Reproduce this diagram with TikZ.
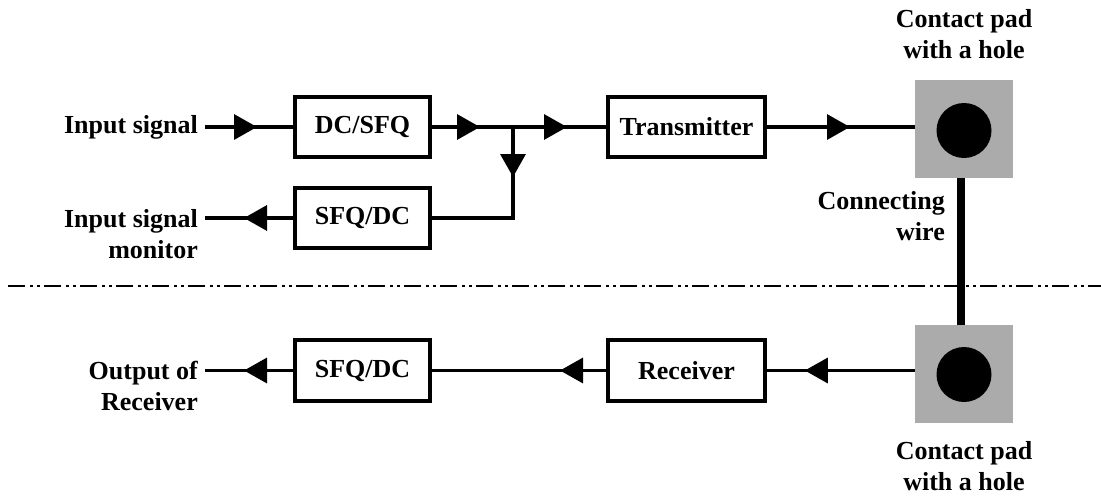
\documentclass[tikz,border=0pt]{standalone}
\usepackage{fontspec}
\setmainfont{Liberation Serif}
\usetikzlibrary{arrows.meta,decorations.markings}

\tikzset{
  block/.style={draw, line width=4pt, fill=white, minimum height=60pt,
    inner sep=0pt, font=\fontsize{26}{31}\selectfont\bfseries},
  lbl/.style={inner sep=0pt, align=right, font=\fontsize{26}{31}\selectfont\bfseries},
  toplbl/.style={inner sep=0pt, align=center, font=\fontsize{26}{31}\selectfont\bfseries},
  wire/.style={line width=3.3pt},
  tipat/.style={postaction={decorate}, decoration={markings,
    mark=at position #1 with {\arrow{Triangle[length=23pt,width=25pt]}}}},
  pad/.style={draw=none, fill=black!33, minimum width=98pt, minimum height=98pt, inner sep=0pt},
  hole/.style={circle, fill=black, minimum size=55pt, inner sep=0pt},
  sep/.style={line width=2.2pt, dash pattern=on 17pt off 5pt on 3pt off 4pt on 3pt off 4pt}
}

\begin{document}
\begin{tikzpicture}[x=1pt,y=-1pt]
\useasboundingbox (0,0) rectangle (1101,496);

% separation line between the two chips
\coordinate (sepL) at (8,286);
\coordinate (sepR) at (1101,286);
\draw[sep] (sepL) -- (sepR);

% functional blocks
\node[block, minimum width=135pt] (dcsfq)  at (362.5,126.5) {DC/SFQ};
\node[block, minimum width=157pt] (tx)     at (686.5,126.5) {Transmitter};
\node[block, minimum width=135pt] (sfqmon) at (362.5,218) {SFQ/DC};
\node[block, minimum width=135pt, minimum height=61pt] (sfqout) at (362.5,370.5) {SFQ/DC};
\node[block, minimum width=157pt, minimum height=61pt] (rx)     at (686.5,370.5) {Receiver};

% contact pads and the wire between them
\node[pad] (padtop) at (964,129) {};
\node[pad] (padbot) at (964,374) {};
\draw[line width=8pt] ([xshift=-3pt]padtop.south) -- ([xshift=-3pt]padbot.north);
\node[hole] (holetop) at (964,130.5) {};
\node[hole] (holebot) at (964,374.5) {};

% free ends of the signal lines
\coordinate (inL)  at (205,127);
\coordinate (monL) at (205,218);
\coordinate (outL) at (205,370.5);
\coordinate (J)    at (513,127);
\coordinate (Jd)   at (513,218);

% upper chain
\draw[wire, tipat=52pt] (inL) -- (inL -| dcsfq.west);
\draw[wire, tipat=48pt] (J -| dcsfq.east) -- (J);
\draw[wire, tipat=54pt] (J) -- (J -| tx.west);
\draw[wire, tipat=50pt] (J) -- (Jd) -- (sfqmon.east);
\draw[wire, tipat=49pt] (sfqmon.west) -- (monL);
\draw[wire, tipat=83pt] (J -| tx.east) -- (J -| padtop.west);

% lower chain
\draw[wire, tipat=110pt] (rx.east -| padbot.west) -- (rx.east);
\draw[wire, tipat=46pt] (rx.west) -- (sfqout.east);
\draw[wire, tipat=49pt] (sfqout.west) -- (outL);

% labels (multi-line nodes sit on the baseline of their last line)
\node[lbl, anchor=base east] (linput) at (198,133) {Input signal};
\node[lbl, anchor=base east] (lmon) at (198,258) {Input signal\\monitor};
\node[lbl, anchor=base east] (lout) at (198,410) {Output of\\Receiver};
\node[toplbl, anchor=base] (lpadtop) at (964,58) {Contact pad\\with a hole};
\node[toplbl, anchor=base] (lpadbot) at (964,490) {Contact pad\\with a hole};
\node[lbl, anchor=base east] (lwire) at (945,240) {Connecting\\wire};
\end{tikzpicture}
\end{document}
